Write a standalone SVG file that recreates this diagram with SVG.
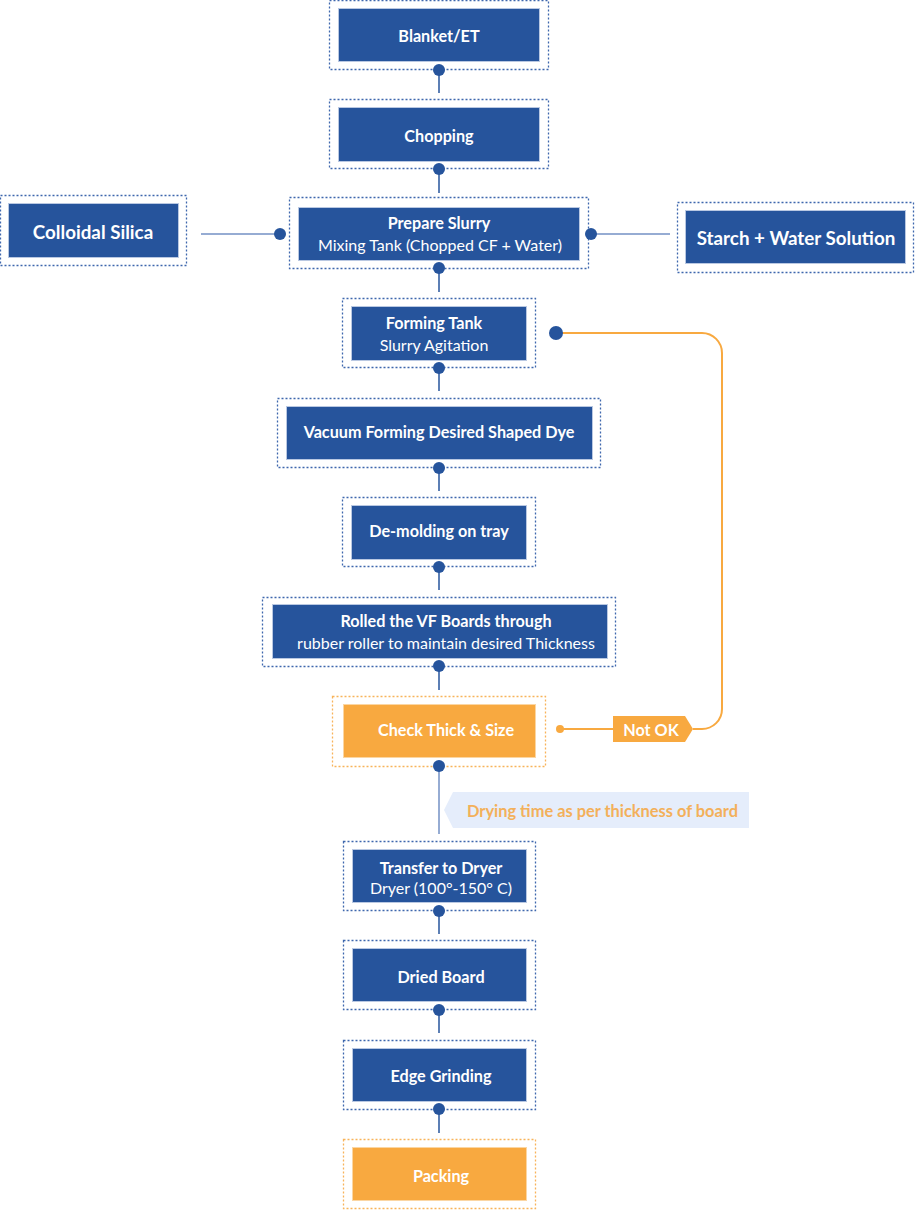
<svg xmlns="http://www.w3.org/2000/svg" width="915" height="1210" viewBox="0 0 915 1210">
<defs>
<style>
.ob{fill:none;stroke:#3e67ad;stroke-width:1.3;stroke-dasharray:2 2}
.oo{fill:none;stroke:#f8b35a;stroke-width:1.3;stroke-dasharray:2 2}
.bx{fill:#26549c;stroke:#b9c8e2;stroke-width:1}
.bo{fill:#f8a940;stroke:#fbd6a3;stroke-width:1}
.t{font-family:Lato,"Liberation Sans",sans-serif;font-weight:700;font-size:16.2px;fill:#fff;text-anchor:middle;dominant-baseline:central}
.big{font-size:18.8px}
.s{font-family:Lato,"Liberation Sans",sans-serif;font-weight:400;font-size:16px;fill:#fff;text-anchor:middle;dominant-baseline:central}
.ln{stroke:#26549c;stroke-width:1.5;fill:none}
.ll{stroke:#7390c4;stroke-width:1.5;fill:none}
.dot{fill:#26549c}
.or{stroke:#f8a940;stroke-width:2;fill:none}
</style>
</defs>
<g id="blanket">
<rect class="ob" x="329.5" y="0.5" width="219" height="69"/>
<rect class="bx" x="338.5" y="8.5" width="201" height="53"/>
<text class="t" x="439" y="35">Blanket/ET</text>
</g>
<g id="chopping">
<rect class="ob" x="329.5" y="99.5" width="219" height="69"/>
<rect class="bx" x="338.5" y="107.5" width="201" height="54"/>
<text class="t" x="439" y="135">Chopping</text>
</g>
<g id="colloidal-silica">
<rect class="ob" x="0.5" y="195.5" width="186" height="70"/>
<rect class="bx" x="8.5" y="203.5" width="170" height="54"/>
<text class="t big" x="93" y="231">Colloidal Silica</text>
</g>
<g id="prepare-slurry">
<rect class="ob" x="289.5" y="197.5" width="299" height="71"/>
<rect class="bx" x="298.5" y="207.5" width="281" height="53"/>
<text class="t" x="439" y="222">Prepare Slurry</text>
<text class="s" x="440" y="244" font-size="15">Mixing Tank (Chopped CF + Water)</text>
</g>
<g id="starch-water">
<rect class="ob" x="677.5" y="202.5" width="236" height="70"/>
<rect class="bx" x="685.5" y="210.5" width="220" height="53"/>
<text class="t big" x="796" y="237">Starch + Water Solution</text>
</g>
<g id="forming-tank">
<rect class="ob" x="342.5" y="298.5" width="193" height="69"/>
<rect class="bx" x="351.5" y="306.5" width="175" height="54"/>
<text class="t" x="434" y="322">Forming Tank</text>
<text class="s" x="434" y="344">Slurry Agitation</text>
</g>
<g id="vacuum-forming">
<rect class="ob" x="277.5" y="398.5" width="323" height="69"/>
<rect class="bx" x="286.5" y="406.5" width="306" height="53"/>
<text class="t" x="439" y="431">Vacuum Forming Desired Shaped Dye</text>
</g>
<g id="de-molding">
<rect class="ob" x="342.5" y="497.5" width="193" height="69"/>
<rect class="bx" x="351.5" y="505.5" width="175" height="54"/>
<text class="t" x="439" y="530">De-molding on tray</text>
</g>
<g id="rolled">
<rect class="ob" x="262.5" y="597.5" width="353" height="69"/>
<rect class="bx" x="272.5" y="604.5" width="335" height="54"/>
<text class="t" x="446" y="620">Rolled the VF Boards through</text>
<text class="s" x="446" y="642">rubber roller to maintain desired Thickness</text>
</g>
<g id="check-thick">
<rect class="oo" x="332.5" y="696.5" width="213" height="70"/>
<rect class="bo" x="343.5" y="704.5" width="192" height="53"/>
<text class="t" x="446" y="729">Check Thick &amp; Size</text>
</g>
<g id="transfer-dryer">
<rect class="ob" x="343.5" y="841.5" width="192" height="69"/>
<rect class="bx" x="352.5" y="849.5" width="174" height="53"/>
<text class="t" x="441" y="867">Transfer to Dryer</text>
<text class="s" x="441" y="887" font-size="12.5">Dryer (100°-150° C)</text>
</g>
<g id="dried-board">
<rect class="ob" x="343.5" y="940.5" width="192" height="69"/>
<rect class="bx" x="352.5" y="948.5" width="174" height="53"/>
<text class="t" x="441" y="976">Dried Board</text>
</g>
<g id="edge-grinding">
<rect class="ob" x="343.5" y="1040.5" width="192" height="69"/>
<rect class="bx" x="352.5" y="1048.5" width="174" height="53"/>
<text class="t" x="441" y="1075">Edge Grinding</text>
</g>
<g id="packing">
<rect class="oo" x="343.5" y="1139.5" width="192" height="69"/>
<rect class="bo" x="352.5" y="1147.5" width="174" height="53"/>
<text class="t" x="441" y="1175">Packing</text>
</g>
<g id="connectors">
<line class="ln" x1="439" y1="70" x2="439" y2="93"/>
<line class="ln" x1="439" y1="169" x2="439" y2="193"/>
<line class="ll" x1="201" y1="234" x2="280" y2="234"/>
<line class="ll" x1="591" y1="234" x2="670" y2="234"/>
<line class="ln" x1="439" y1="268" x2="439" y2="292"/>
<line class="ln" x1="439" y1="368" x2="439" y2="391"/>
<line class="ln" x1="439" y1="468" x2="439" y2="491"/>
<line class="ln" x1="439" y1="567" x2="439" y2="590"/>
<line class="ln" x1="439" y1="666" x2="439" y2="690"/>
<line class="ll" x1="439" y1="766" x2="439" y2="834"/>
<line class="ln" x1="439" y1="911" x2="439" y2="934"/>
<line class="ln" x1="439" y1="1010" x2="439" y2="1033"/>
<line class="ln" x1="439" y1="1109" x2="439" y2="1133"/>
<path class="or" d="M559 729 H614 M693 729 H702 A20 20 0 0 0 722 709 V353 A20 20 0 0 0 702 333 H556"/>
<circle class="dot" cx="439" cy="70" r="6"/>
<circle class="dot" cx="439" cy="169" r="6"/>
<circle class="dot" cx="280" cy="234" r="6"/>
<circle class="dot" cx="591" cy="234" r="6"/>
<circle class="dot" cx="439" cy="268" r="6"/>
<circle class="dot" cx="439" cy="368" r="6"/>
<circle class="dot" cx="556" cy="333" r="7"/>
<circle class="dot" cx="439" cy="468" r="6"/>
<circle class="dot" cx="439" cy="567" r="6"/>
<circle class="dot" cx="439" cy="666" r="6"/>
<circle class="dot" cx="439" cy="766" r="6"/>
<circle fill="#f8a940" cx="560" cy="729" r="4"/>
<circle class="dot" cx="439" cy="911" r="6"/>
<circle class="dot" cx="439" cy="1010" r="6"/>
<circle class="dot" cx="439" cy="1109" r="6"/>
<g id="not-ok">
<polygon fill="#f8a940" points="613,716 685,716 693,729 685,742 613,742"/>
<text class="t" x="651" y="729">Not OK</text>
</g>
<g id="drying-note">
<polygon fill="#e5edfb" points="444,810 453,792 749,792 749,828 453,828"/>
<text x="467" y="810" font-family="Lato,'Liberation Sans',sans-serif" font-weight="700" font-size="16.4" fill="#f3b05a" dominant-baseline="central">Drying time as per thickness of board</text>
</g>
</g>
</svg>
